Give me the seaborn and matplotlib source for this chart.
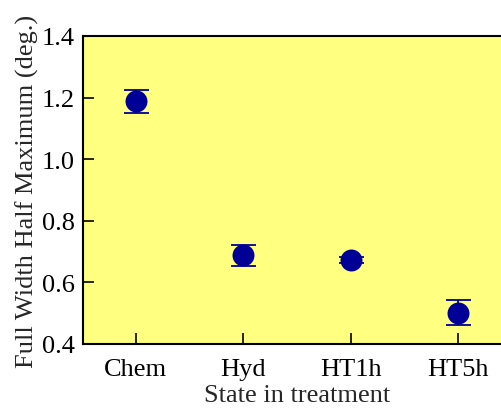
import matplotlib
matplotlib.use("Agg")
import matplotlib.pyplot as plt
import seaborn as sns
import pandas as pd

# values
states = ["Chem", "Hyd", "HT1h", "HT5h"]
fwhm = [1.188, 0.688, 0.673, 0.502]
fwhm_err = [0.037, 0.034, 0.010, 0.040]

df = pd.DataFrame({"state": states, "fwhm": fwhm, "err": fwhm_err})

sns.set_style("ticks")
plt.rcParams["font.family"] = ["Liberation Serif", "DejaVu Serif"]

fig = plt.figure(figsize=(5.02, 4.10), dpi=100)
ax = fig.add_axes([83 / 502, 1 - 345 / 410, (511 - 83) / 502, (345 - 37) / 410])
ax.set_facecolor("#ffff80")

blue = "#000096"
ax.errorbar(range(len(states)), df["fwhm"], yerr=df["err"], fmt="none",
            ecolor=blue, elinewidth=1.3, capsize=9, capthick=1.3, zorder=2)
sns.scatterplot(data=df, x="state", y="fwhm", ax=ax, color=blue, s=250,
                edgecolor=blue, linewidth=0, zorder=3)

ax.set_xlim(-0.49, 3.49)
ax.set_ylim(0.4, 1.4)
ax.set_yticks([0.4, 0.6, 0.8, 1.0, 1.2, 1.4])
ax.set_yticklabels(["0.4", "0.6", "0.8", "1.0", "1.2", "1.4"])
ax.tick_params(axis="both", direction="in", length=8, width=1.2,
               labelsize=19, colors="black")
ax.tick_params(axis="x", pad=10)
ax.tick_params(axis="y", pad=6)
for s in ax.spines.values():
    s.set_linewidth(1.5)
    s.set_color("black")

ax.set_xlabel("State in treatment", fontsize=19, labelpad=3)
ax.set_ylabel("Full Width Half Maximum (deg.)", fontsize=19, labelpad=2)

fig.savefig("out.png", dpi=100)
